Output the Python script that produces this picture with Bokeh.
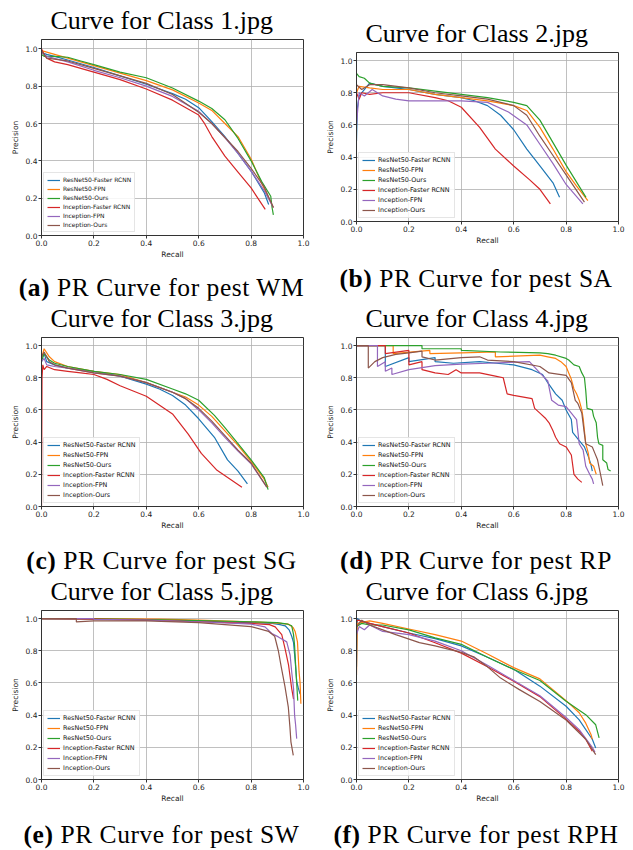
from bokeh.plotting import figure
from bokeh.models import Range1d, FixedTicker, PrintfTickFormatter, Div, Legend, LegendItem
from bokeh.layouts import column, row
from bokeh.embed import file_html
from bokeh.resources import INLINE

SERIES = ["ResNet50-Faster RCNN", "ResNet50-FPN", "ResNet50-Ours",
          "Inception-Faster RCNN", "Inception-FPN", "Inception-Ours"]
COLORS = ["#1f77b4", "#ff7f0e", "#2ca02c", "#d62728", "#9467bd", "#8c564b"]
TITLES = ["Curve for Class 1.jpg", "Curve for Class 2.jpg", "Curve for Class 3.jpg",
          "Curve for Class 4.jpg", "Curve for Class 5.jpg", "Curve for Class 6.jpg"]
CAPTION_TAGS = ["(a)", "(b)", "(c)", "(d)", "(e)", "(f)"]
CAPTION_TEXTS = ["PR Curve for pest WM", "PR Curve for pest SA", "PR Curve for pest SG",
                 "PR Curve for pest RP", "PR Curve for pest SW", "PR Curve for pest RPH"]
TICKS = [0.0, 0.2, 0.4, 0.6, 0.8, 1.0]
X_LABEL = "Recall"
Y_LABEL = "Precision"

# ---------------- Class 1 ----------------
c1_r50_frcnn_rec = [0.0, 0.02, 0.05, 0.1, 0.2, 0.3, 0.4, 0.5, 0.55, 0.6, 0.65, 0.7, 0.75, 0.8, 0.85, 0.867]
c1_r50_frcnn_prec = [0.98, 0.97, 0.96, 0.94, 0.90, 0.855, 0.81, 0.76, 0.73, 0.685, 0.61, 0.53, 0.44, 0.345, 0.23, 0.166]
c1_r50_fpn_rec = [0.0, 0.05, 0.1, 0.2, 0.3, 0.4, 0.5, 0.6, 0.65, 0.7, 0.75, 0.8, 0.84, 0.885]
c1_r50_fpn_prec = [0.99, 0.97, 0.95, 0.91, 0.87, 0.83, 0.78, 0.71, 0.67, 0.6, 0.53, 0.41, 0.28, 0.15]
c1_r50_ours_rec = [0.0, 0.01, 0.05, 0.1, 0.15, 0.2, 0.3, 0.4, 0.5, 0.6, 0.65, 0.7, 0.75, 0.8, 0.84, 0.875, 0.88, 0.885]
c1_r50_ours_prec = [0.97, 0.96, 0.96, 0.955, 0.935, 0.915, 0.875, 0.845, 0.79, 0.72, 0.68, 0.62, 0.52, 0.40, 0.29, 0.21, 0.15, 0.11]
c1_inc_frcnn_rec = [0.0, 0.01, 0.02, 0.05, 0.1, 0.2, 0.3, 0.4, 0.5, 0.6, 0.62, 0.65, 0.7, 0.75, 0.8, 0.854]
c1_inc_frcnn_prec = [1.0, 0.97, 0.95, 0.93, 0.915, 0.875, 0.835, 0.785, 0.725, 0.645, 0.605, 0.53, 0.425, 0.34, 0.255, 0.14]
c1_inc_fpn_rec = [0.0, 0.02, 0.1, 0.2, 0.3, 0.4, 0.5, 0.6, 0.65, 0.7, 0.75, 0.8, 0.85, 0.885]
c1_inc_fpn_prec = [0.98, 0.96, 0.93, 0.885, 0.845, 0.80, 0.745, 0.665, 0.60, 0.525, 0.44, 0.345, 0.24, 0.15]
c1_inc_ours_rec = [0.0, 0.02, 0.1, 0.2, 0.3, 0.4, 0.5, 0.6, 0.65, 0.7, 0.75, 0.8, 0.85, 0.885]
c1_inc_ours_prec = [0.99, 0.95, 0.935, 0.895, 0.855, 0.815, 0.755, 0.66, 0.6, 0.525, 0.45, 0.36, 0.26, 0.15]

# ---------------- Class 2 ----------------
c2_r50_frcnn_rec = [0.0, 0.003, 0.01, 0.03, 0.05, 0.1, 0.2, 0.3, 0.4, 0.45, 0.5, 0.55, 0.6, 0.65, 0.7, 0.75, 0.775]
c2_r50_frcnn_prec = [0.5, 0.7, 0.78, 0.82, 0.86, 0.84, 0.82, 0.79, 0.77, 0.75, 0.72, 0.66, 0.57, 0.45, 0.345, 0.24, 0.15]
c2_r50_fpn_rec = [0.0, 0.01, 0.05, 0.1, 0.2, 0.3, 0.4, 0.5, 0.6, 0.65, 0.7, 0.75, 0.8, 0.84, 0.883]
c2_r50_fpn_prec = [0.8, 0.84, 0.83, 0.82, 0.82, 0.79, 0.77, 0.75, 0.72, 0.69, 0.585, 0.45, 0.31, 0.22, 0.13]
c2_r50_ours_rec = [0.0, 0.01, 0.03, 0.05, 0.1, 0.2, 0.3, 0.4, 0.5, 0.6, 0.65, 0.7, 0.75, 0.8, 0.876]
c2_r50_ours_prec = [0.92, 0.9, 0.89, 0.86, 0.84, 0.83, 0.81, 0.79, 0.77, 0.74, 0.72, 0.63, 0.49, 0.35, 0.15]
c2_inc_frcnn_rec = [0.0, 0.01, 0.02, 0.05, 0.1, 0.2, 0.3, 0.35, 0.4, 0.47, 0.53, 0.6, 0.66, 0.7, 0.74]
c2_inc_frcnn_prec = [0.8, 0.76, 0.8, 0.79, 0.8, 0.8, 0.77, 0.75, 0.71, 0.585, 0.45, 0.345, 0.26, 0.2, 0.11]
c2_inc_fpn_rec = [0.0, 0.01, 0.03, 0.06, 0.1, 0.15, 0.2, 0.3, 0.4, 0.5, 0.58, 0.65, 0.7, 0.75, 0.8, 0.864]
c2_inc_fpn_prec = [0.6, 0.8, 0.78, 0.82, 0.78, 0.76, 0.75, 0.75, 0.75, 0.74, 0.68, 0.6, 0.48, 0.36, 0.23, 0.11]
c2_inc_ours_rec = [0.0, 0.02, 0.05, 0.1, 0.2, 0.3, 0.4, 0.5, 0.6, 0.65, 0.7, 0.75, 0.8, 0.87]
c2_inc_ours_prec = [0.85, 0.82, 0.85, 0.85, 0.83, 0.8, 0.78, 0.76, 0.72, 0.66, 0.53, 0.41, 0.29, 0.12]

# ---------------- Class 3 ----------------
c3_r50_frcnn_rec = [0.0, 0.01, 0.02, 0.05, 0.1, 0.2, 0.3, 0.4, 0.45, 0.5, 0.55, 0.6, 0.66, 0.71, 0.75, 0.786]
c3_r50_frcnn_prec = [0.92, 0.95, 0.9, 0.88, 0.86, 0.84, 0.81, 0.76, 0.73, 0.69, 0.63, 0.545, 0.43, 0.29, 0.22, 0.14]
c3_r50_fpn_rec = [0.0, 0.01, 0.03, 0.05, 0.1, 0.2, 0.3, 0.4, 0.5, 0.55, 0.6, 0.65, 0.7, 0.75, 0.8, 0.85, 0.865]
c3_r50_fpn_prec = [0.92, 0.98, 0.93, 0.9, 0.87, 0.84, 0.82, 0.77, 0.71, 0.68, 0.63, 0.56, 0.47, 0.38, 0.28, 0.17, 0.12]
c3_r50_ours_rec = [0.0, 0.01, 0.03, 0.05, 0.1, 0.2, 0.3, 0.4, 0.5, 0.55, 0.6, 0.66, 0.7, 0.75, 0.8, 0.85, 0.865]
c3_r50_ours_prec = [0.9, 0.95, 0.91, 0.89, 0.87, 0.84, 0.82, 0.79, 0.73, 0.7, 0.66, 0.566, 0.49, 0.39, 0.29, 0.18, 0.105]
c3_inc_frcnn_rec = [0.0, 0.002, 0.005, 0.01, 0.02, 0.05, 0.1, 0.15, 0.2, 0.25, 0.3, 0.4, 0.5, 0.56, 0.61, 0.67, 0.765]
c3_inc_frcnn_prec = [0.0, 0.8, 0.88, 0.85, 0.87, 0.85, 0.84, 0.83, 0.82, 0.79, 0.75, 0.685, 0.575, 0.45, 0.33, 0.225, 0.12]
c3_inc_fpn_rec = [0.0, 0.01, 0.02, 0.05, 0.1, 0.2, 0.3, 0.4, 0.5, 0.55, 0.6, 0.65, 0.7, 0.75, 0.8, 0.86]
c3_inc_fpn_prec = [0.9, 0.92, 0.88, 0.87, 0.86, 0.83, 0.81, 0.77, 0.71, 0.67, 0.6, 0.52, 0.43, 0.345, 0.265, 0.12]
c3_inc_ours_rec = [0.0, 0.01, 0.03, 0.05, 0.1, 0.2, 0.3, 0.4, 0.5, 0.55, 0.6, 0.65, 0.7, 0.75, 0.8, 0.86]
c3_inc_ours_prec = [0.93, 0.96, 0.9, 0.88, 0.86, 0.83, 0.81, 0.77, 0.71, 0.67, 0.61, 0.53, 0.44, 0.35, 0.27, 0.12]

# ---------------- Class 4 ----------------
c4_r50_frcnn_rec = [0.0, 0.11, 0.11, 0.2, 0.2, 0.3, 0.3, 0.37, 0.47, 0.6, 0.67, 0.71, 0.73, 0.76, 0.785, 0.8, 0.82, 0.825, 0.85, 0.87, 0.885, 0.895, 0.9]
c4_r50_frcnn_prec = [1.0, 1.0, 0.87, 0.925, 0.9, 0.925, 0.9, 0.89, 0.9, 0.88, 0.85, 0.82, 0.77, 0.7, 0.66, 0.6, 0.54, 0.46, 0.41, 0.37, 0.31, 0.26, 0.22]
c4_r50_fpn_rec = [0.0, 0.14, 0.14, 0.28, 0.28, 0.4, 0.53, 0.53, 0.7, 0.73, 0.76, 0.78, 0.8, 0.81, 0.82, 0.83, 0.84, 0.85, 0.86, 0.865, 0.875, 0.885, 0.89, 0.905, 0.915]
c4_r50_fpn_prec = [1.0, 1.0, 0.95, 0.97, 0.95, 0.955, 0.96, 0.93, 0.94, 0.93, 0.92, 0.9, 0.87, 0.83, 0.79, 0.73, 0.7, 0.66, 0.6, 0.55, 0.39, 0.33, 0.27, 0.25, 0.2]
c4_r50_ours_rec = [0.0, 0.25, 0.25, 0.4, 0.4, 0.55, 0.7, 0.73, 0.76, 0.8, 0.81, 0.83, 0.85, 0.86, 0.87, 0.875, 0.88, 0.9, 0.905, 0.915, 0.92, 0.925, 0.94, 0.94, 0.955, 0.96, 0.97]
c4_r50_ours_prec = [1.0, 1.0, 0.98, 0.98, 0.97, 0.96, 0.955, 0.95, 0.94, 0.92, 0.91, 0.88, 0.87, 0.83, 0.8, 0.72, 0.61, 0.6, 0.56, 0.52, 0.43, 0.39, 0.38, 0.29, 0.27, 0.23, 0.22]
c4_inc_frcnn_rec = [0.0, 0.11, 0.11, 0.2, 0.2, 0.25, 0.25, 0.3, 0.35, 0.38, 0.4, 0.47, 0.53, 0.56, 0.575, 0.6, 0.67, 0.68, 0.7, 0.72, 0.735, 0.75, 0.76, 0.775, 0.8, 0.82, 0.83, 0.845, 0.86]
c4_inc_frcnn_prec = [1.0, 1.0, 0.95, 0.97, 0.88, 0.9, 0.85, 0.83, 0.82, 0.85, 0.83, 0.83, 0.81, 0.8, 0.7, 0.69, 0.67, 0.61, 0.58, 0.55, 0.52, 0.47, 0.43, 0.39, 0.37, 0.32, 0.2, 0.17, 0.15]
c4_inc_fpn_rec = [0.0, 0.08, 0.08, 0.11, 0.11, 0.135, 0.135, 0.2, 0.3, 0.4, 0.5, 0.66, 0.7, 0.73, 0.745, 0.77, 0.8, 0.82, 0.84, 0.85, 0.865, 0.875, 0.89, 0.9, 0.905]
c4_inc_fpn_prec = [1.0, 1.0, 0.87, 0.9, 0.84, 0.86, 0.82, 0.85, 0.875, 0.885, 0.89, 0.9, 0.83, 0.78, 0.66, 0.63, 0.62, 0.58, 0.54, 0.39, 0.35, 0.25, 0.2, 0.17, 0.14]
c4_inc_ours_rec = [0.0, 0.045, 0.045, 0.07, 0.1, 0.15, 0.2, 0.25, 0.25, 0.3, 0.4, 0.47, 0.5, 0.6, 0.7, 0.735, 0.8, 0.82, 0.835, 0.845, 0.86, 0.87, 0.875, 0.9, 0.91, 0.92, 0.93, 0.94]
c4_inc_ours_prec = [1.0, 1.0, 0.86, 0.9, 0.925, 0.945, 0.955, 0.965, 0.93, 0.91, 0.925, 0.93, 0.91, 0.9, 0.87, 0.83, 0.815, 0.77, 0.66, 0.64, 0.58, 0.45, 0.39, 0.37, 0.33, 0.29, 0.21, 0.13]

# ---------------- Class 5 ----------------
c5_r50_frcnn_rec = [0.0, 0.2, 0.4, 0.6, 0.8, 0.88, 0.91, 0.93, 0.945, 0.955, 0.962, 0.968, 0.974, 0.98, 0.987]
c5_r50_frcnn_prec = [1.0, 0.998, 0.993, 0.985, 0.975, 0.97, 0.962, 0.955, 0.93, 0.89, 0.85, 0.74, 0.61, 0.57, 0.53]
c5_r50_fpn_rec = [0.0, 0.2, 0.45, 0.6, 0.8, 0.9, 0.943, 0.96, 0.968, 0.977, 0.983, 0.987, 0.99]
c5_r50_fpn_prec = [1.0, 1.0, 0.997, 0.99, 0.98, 0.972, 0.965, 0.945, 0.92, 0.855, 0.67, 0.6, 0.47]
c5_r50_ours_rec = [0.0, 0.2, 0.4, 0.6, 0.8, 0.9, 0.94, 0.955, 0.962, 0.966, 0.97, 0.974, 0.978]
c5_r50_ours_prec = [1.0, 0.998, 0.993, 0.987, 0.98, 0.975, 0.965, 0.955, 0.9, 0.83, 0.71, 0.6, 0.49]
c5_inc_frcnn_rec = [0.0, 0.2, 0.4, 0.6, 0.8, 0.87, 0.892, 0.917, 0.93, 0.943, 0.955, 0.962]
c5_inc_frcnn_prec = [1.0, 0.997, 0.99, 0.98, 0.97, 0.962, 0.948, 0.9, 0.81, 0.71, 0.565, 0.5]
c5_inc_fpn_rec = [0.0, 0.2, 0.2, 0.4, 0.6, 0.8, 0.853, 0.879, 0.904, 0.936, 0.949, 0.955, 0.962, 0.966, 0.97, 0.974]
c5_inc_fpn_prec = [1.0, 1.0, 0.995, 0.99, 0.98, 0.965, 0.948, 0.907, 0.886, 0.855, 0.772, 0.668, 0.565, 0.4, 0.337, 0.254]
c5_inc_ours_rec = [0.0, 0.133, 0.133, 0.2, 0.4, 0.6, 0.8, 0.867, 0.89, 0.904, 0.915, 0.929, 0.942, 0.948, 0.952, 0.961]
c5_inc_ours_prec = [1.0, 1.0, 0.979, 0.985, 0.985, 0.975, 0.95, 0.92, 0.89, 0.8, 0.7, 0.58, 0.45, 0.33, 0.234, 0.15]

# ---------------- Class 6 ----------------
c6_r50_frcnn_rec = [0.0, 0.003, 0.02, 0.05, 0.1, 0.2, 0.3, 0.4, 0.5, 0.6, 0.7, 0.8, 0.85, 0.9, 0.913]
c6_r50_frcnn_prec = [0.7, 1.0, 0.98, 0.97, 0.95, 0.91, 0.875, 0.83, 0.76, 0.685, 0.58, 0.455, 0.37, 0.25, 0.196]
c6_r50_fpn_rec = [0.0, 0.003, 0.05, 0.1, 0.2, 0.3, 0.4, 0.5, 0.6, 0.7, 0.8, 0.85, 0.875, 0.895, 0.9]
c6_r50_fpn_prec = [0.65, 0.97, 0.985, 0.97, 0.935, 0.9, 0.86, 0.78, 0.695, 0.625, 0.49, 0.415, 0.35, 0.28, 0.25]
c6_r50_ours_rec = [0.0, 0.02, 0.05, 0.1, 0.2, 0.3, 0.4, 0.5, 0.6, 0.7, 0.8, 0.875, 0.913, 0.926]
c6_r50_ours_prec = [0.95, 0.97, 0.96, 0.96, 0.93, 0.88, 0.84, 0.76, 0.683, 0.615, 0.486, 0.403, 0.34, 0.258]
c6_inc_frcnn_rec = [0.0, 0.005, 0.05, 0.1, 0.2, 0.3, 0.4, 0.5, 0.6, 0.7, 0.8, 0.85, 0.875, 0.9]
c6_inc_frcnn_prec = [0.98, 0.99, 0.97, 0.95, 0.91, 0.85, 0.785, 0.7, 0.61, 0.515, 0.375, 0.3, 0.25, 0.175]
c6_inc_fpn_rec = [0.0, 0.01, 0.03, 0.05, 0.1, 0.2, 0.3, 0.4, 0.5, 0.6, 0.7, 0.8, 0.85, 0.9, 0.91]
c6_inc_fpn_prec = [0.9, 0.95, 0.93, 0.96, 0.92, 0.9, 0.86, 0.8, 0.71, 0.615, 0.52, 0.385, 0.31, 0.2, 0.17]
c6_inc_ours_rec = [0.0, 0.02, 0.05, 0.1, 0.15, 0.24, 0.3, 0.4, 0.45, 0.5, 0.55, 0.62, 0.7, 0.8, 0.875, 0.913]
c6_inc_ours_prec = [0.95, 0.99, 0.96, 0.93, 0.9, 0.85, 0.83, 0.79, 0.76, 0.7, 0.63, 0.56, 0.485, 0.37, 0.25, 0.155]

CURVES = [
    [(c1_r50_frcnn_rec, c1_r50_frcnn_prec), (c1_r50_fpn_rec, c1_r50_fpn_prec), (c1_r50_ours_rec, c1_r50_ours_prec),
     (c1_inc_frcnn_rec, c1_inc_frcnn_prec), (c1_inc_fpn_rec, c1_inc_fpn_prec), (c1_inc_ours_rec, c1_inc_ours_prec)],
    [(c2_r50_frcnn_rec, c2_r50_frcnn_prec), (c2_r50_fpn_rec, c2_r50_fpn_prec), (c2_r50_ours_rec, c2_r50_ours_prec),
     (c2_inc_frcnn_rec, c2_inc_frcnn_prec), (c2_inc_fpn_rec, c2_inc_fpn_prec), (c2_inc_ours_rec, c2_inc_ours_prec)],
    [(c3_r50_frcnn_rec, c3_r50_frcnn_prec), (c3_r50_fpn_rec, c3_r50_fpn_prec), (c3_r50_ours_rec, c3_r50_ours_prec),
     (c3_inc_frcnn_rec, c3_inc_frcnn_prec), (c3_inc_fpn_rec, c3_inc_fpn_prec), (c3_inc_ours_rec, c3_inc_ours_prec)],
    [(c4_r50_frcnn_rec, c4_r50_frcnn_prec), (c4_r50_fpn_rec, c4_r50_fpn_prec), (c4_r50_ours_rec, c4_r50_ours_prec),
     (c4_inc_frcnn_rec, c4_inc_frcnn_prec), (c4_inc_fpn_rec, c4_inc_fpn_prec), (c4_inc_ours_rec, c4_inc_ours_prec)],
    [(c5_r50_frcnn_rec, c5_r50_frcnn_prec), (c5_r50_fpn_rec, c5_r50_fpn_prec), (c5_r50_ours_rec, c5_r50_ours_prec),
     (c5_inc_frcnn_rec, c5_inc_frcnn_prec), (c5_inc_fpn_rec, c5_inc_fpn_prec), (c5_inc_ours_rec, c5_inc_ours_prec)],
    [(c6_r50_frcnn_rec, c6_r50_frcnn_prec), (c6_r50_fpn_rec, c6_r50_fpn_prec), (c6_r50_ours_rec, c6_r50_ours_prec),
     (c6_inc_frcnn_rec, c6_inc_frcnn_prec), (c6_inc_fpn_rec, c6_inc_fpn_prec), (c6_inc_ours_rec, c6_inc_ours_prec)],
]

SERIF = "Liberation Serif"
SANS = "DejaVu Sans"
TITLE_SIZE = "26px"
CAPTION_SIZE = "25.5px"


def make_panel(idx, width, height, mbl, mbr, mbt, mbb, legend_size):
    p = figure(width=width, height=height, x_range=Range1d(0, 1), y_range=Range1d(0, 1.05),
               output_backend="svg", toolbar_location=None,
               min_border_left=mbl, min_border_right=mbr, min_border_top=mbt, min_border_bottom=mbb,
               background_fill_color="white", border_fill_color="white")
    p.title.text = TITLES[idx]
    p.title.text_font = SERIF
    p.title.text_font_size = TITLE_SIZE
    p.title.text_font_style = "normal"
    p.title.text_color = "black"
    p.title.align = "left"
    p.title.vertical_align = "top"
    p.title.offset = 9
    p.title.standoff = 6

    p.outline_line_color = "#333333"
    p.outline_line_width = 1

    for ax in (p.xaxis[0], p.yaxis[0]):
        ax.ticker = FixedTicker(ticks=TICKS)
        ax.formatter = PrintfTickFormatter(format="%.1f")
        ax.minor_tick_line_color = None
        ax.major_tick_in = 0
        ax.major_tick_out = 3
        ax.major_tick_line_color = "#333333"
        ax.axis_line_color = "#333333"
        ax.major_label_text_font = SANS
        ax.major_label_text_font_size = "7.5px"
        ax.major_label_text_color = "#222222"
        ax.major_label_standoff = 1
        ax.axis_label_text_font = SANS
        ax.axis_label_text_font_size = "7.5px"
        ax.axis_label_text_font_style = "normal"
        ax.axis_label_text_color = "#222222"
    p.xaxis.axis_label = X_LABEL
    p.yaxis.axis_label = Y_LABEL
    p.xaxis.axis_label_standoff = 1
    p.yaxis.axis_label_standoff = 3

    p.grid.grid_line_color = "#b0b0b0"
    p.grid.grid_line_width = 0.8

    items = []
    for (rec, prec), name, color in zip(CURVES[idx], SERIES, COLORS):
        r = p.line(rec, prec, line_color=color, line_width=1.2)
        items.append(LegendItem(label=name, renderers=[r]))
    legend = Legend(items=items, location=(2, 3),
                    label_text_font=SANS, label_text_font_size=legend_size,
                    label_text_color="#111111",
                    glyph_width=13, glyph_height=6, label_height=6,
                    label_standoff=3, spacing=2, padding=3, margin=0,
                    border_line_color="#cccccc", border_line_width=0.8,
                    background_fill_color="white", background_fill_alpha=0.85)
    p.add_layout(legend)
    return p


def caption(idx, width, height, pad_top, pad_left):
    html = ('<div style="box-sizing:border-box;width:%dpx;font-family:\'Liberation Serif\',Times,serif;'
            'font-size:%s;line-height:24px;letter-spacing:0.55px;text-align:center;white-space:nowrap;color:#000;'
            'padding-top:%dpx;padding-left:%dpx;">'
            '<b>%s</b> %s</div>') % (width, CAPTION_SIZE, pad_top, pad_left,
                                     CAPTION_TAGS[idx], CAPTION_TEXTS[idx])
    return Div(text=html, width=width, height=height, margin=0)


LW, RW = 316, 317
fa = make_panel(0, LW, 262, 41, 13, 39, 27, "6px")
da = caption(0, LW, 38, 14, 7)
fc = make_panel(2, LW, 233, 41, 13, 37, 27, "6.4px")
dc = caption(2, LW, 40, 16, 7)
fe = make_panel(4, LW, 233, 41, 13, 37, 27, "6.4px")
de = caption(4, LW, 44, 17, 7)

fb = make_panel(1, RW, 247, 40, 15, 52, 26, "6.4px")
db = caption(1, RW, 50, 20, 3)
fd = make_panel(3, RW, 236, 40, 15, 40, 27, "6.4px")
dd = caption(3, RW, 40, 16, 3)
ff = make_panel(5, RW, 233, 40, 15, 37, 27, "6.4px")
df = caption(5, RW, 44, 17, 3)

left = column(fa, da, fc, dc, fe, de, spacing=0)
right = column(fb, db, fd, dd, ff, df, spacing=0)
p = row(left, right, spacing=0)

open("out.html", "w").write(file_html(p, INLINE))
